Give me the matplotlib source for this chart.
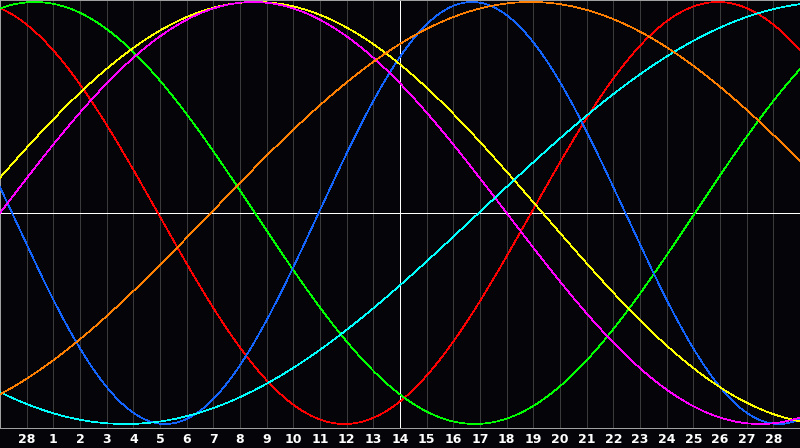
import numpy as np
import matplotlib
matplotlib.use("Agg")
import matplotlib.pyplot as plt
import matplotlib.transforms as mtransforms

# day labels under the grid lines (last day of previous month, then 1..28)
day_labels = ["28"] + [str(d) for d in range(1, 29)]

# cycles: period in days, day position of a peak
periods = [28, 33, 23, 43, 38, 53, 48]
peak_days = [-1.08, 1.31, 17.7, 9.6, 9.5, 31.2, 19.9]
colors = ["#ff0000", "#00ff00", "#1464ff", "#ffff00", "#ff00ff", "#00ffff", "#ff8000"]

bg = "#050408"
grid_col = "#3a3a3a"
frame_col = "#a0a0a0"
px = 0.72  # one pixel at 100 dpi

fig = plt.figure(figsize=(8, 4.48), dpi=100, facecolor=bg)
ax = fig.add_axes([0, 20 / 448, 1, 428 / 448], facecolor=bg)

n_days = len(day_labels) + 1
ax.set_xlim(0, n_days)
ax.set_ylim(-(428 - 213) / 211, 213 / 211)

# vertical day lines
for k in range(1, n_days):
    c = "white" if k == n_days // 2 else grid_col
    ax.axvline(k, color=c, lw=px, antialiased=False, zorder=1)
ax.axhline(0, color="white", lw=px, antialiased=False, zorder=1)

t = np.linspace(0, n_days, 1600)
for p, pk, col in zip(periods, peak_days, colors):
    ax.plot(t, np.cos(2 * np.pi * (t - pk) / p), color=col, lw=0.5,
            antialiased=False, zorder=3)

ax.set_xticks([])
ax.set_yticks([])
for s in ax.spines.values():
    s.set_color(frame_col)
    s.set_linewidth(px)

trans = mtransforms.blended_transform_factory(ax.transData, ax.transAxes)
for k, lab in enumerate(day_labels, start=1):
    ax.text(k, -11 / 428, lab, transform=trans, ha="center", va="center",
            color="white", fontsize=9, fontweight="bold",
            family="DejaVu Sans", clip_on=False)

fig.savefig("out.png", dpi=100, facecolor=bg)
